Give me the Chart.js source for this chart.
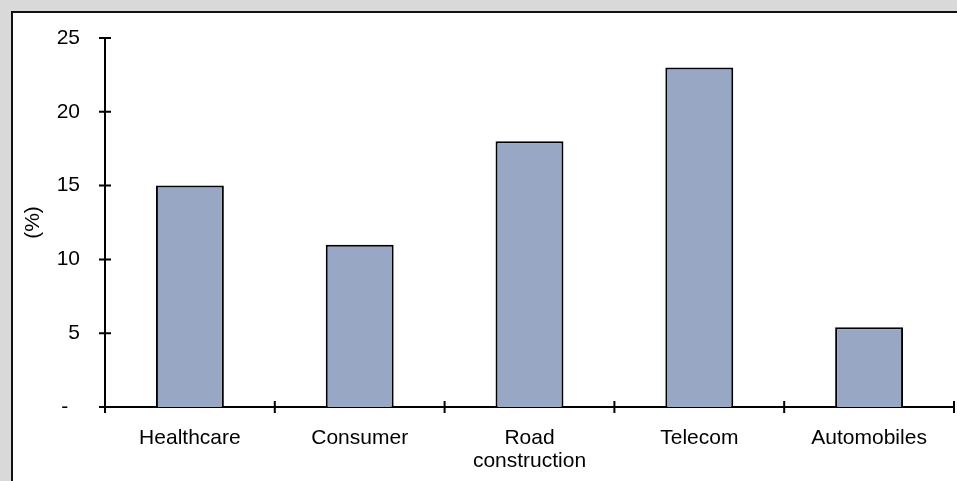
<!DOCTYPE html>
<html lang="en">
<head>
    <meta charset="UTF-8">
    <title>Sector returns</title>
    <script src="https://cdn.jsdelivr.net/npm/chart.js@4"></script>
    <style>
        html, body { margin: 0; padding: 0; }
        body { background: #d9d9d9; width: 957px; height: 481px; overflow: hidden; position: relative; }
        #panel {
            position: absolute; left: 11px; top: 11px; width: 960px; height: 480px;
            background: #ffffff; border-left: 2px solid #111; border-top: 2px solid #111;
        }
        #wrap { position: absolute; left: 0; top: 0; width: 957px; height: 481px; }
    </style>
</head>
<body>
    <div id="panel"></div>
    <div id="wrap"><canvas id="sectorChart"></canvas></div>

    <script>
        const sectors = ['Healthcare', 'Consumer', ['Road', 'construction'], 'Telecom', 'Automobiles'];
        const returns = [15, 11, 18, 23, 5.4];
        const yTicks = [0, 5, 10, 15, 20, 25];

        const font = { family: 'Arial, "Liberation Sans", sans-serif', size: 21, lineHeight: 1.1 };

        // tick marks that cross the axis lines on both sides
        const crossTicks = {
            id: 'crossTicks',
            afterDraw(chart) {
                const ctx = chart.ctx;
                const x = chart.scales.x;
                const y = chart.scales.y;
                const len = 6;
                ctx.save();
                ctx.strokeStyle = '#000';
                ctx.lineWidth = 2;
                ctx.beginPath();
                yTicks.forEach(v => {
                    const py = y.getPixelForValue(v);
                    ctx.moveTo(x.left - len, py);
                    ctx.lineTo(x.left + len, py);
                });
                for (let i = 0; i <= sectors.length; i++) {
                    const px = x.getPixelForValue(i - 0.5);
                    ctx.moveTo(px, y.bottom - len);
                    ctx.lineTo(px, y.bottom + len);
                }
                ctx.stroke();
                ctx.restore();
            }
        };

        new Chart(document.getElementById('sectorChart'), {
            type: 'bar',
            data: {
                labels: sectors,
                datasets: [{
                    data: returns,
                    backgroundColor: '#97a7c4',
                    borderColor: '#000',
                    borderWidth: 2,
                    barPercentage: 0.4,
                    categoryPercentage: 1
                }]
            },
            options: {
                responsive: true,
                maintainAspectRatio: false,
                animation: false,
                layout: { padding: { left: 0, right: 3, top: 38, bottom: 0 } },
                plugins: { legend: { display: false }, tooltip: { enabled: false } },
                scales: {
                    x: {
                        grid: { display: false, drawTicks: false },
                        border: { display: true, color: '#000', width: 2 },
                        ticks: { color: '#000', font: font, padding: 20, maxRotation: 0, autoSkip: false },
                        afterFit(scale) { scale.height = 74; }
                    },
                    y: {
                        min: 0,
                        max: 25,
                        afterBuildTicks(scale) { scale.ticks = yTicks.map(v => ({ value: v })); },
                        grid: { display: false, drawTicks: false },
                        border: { display: true, color: '#000', width: 2 },
                        ticks: {
                            color: '#000',
                            font: font,
                            padding: 25,
                            // accounting-style zero: dash followed by spaces
                            callback: v => v === 0 ? '-  ' : String(v)
                        },
                        title: {
                            display: true,
                            text: '(%)',
                            color: '#000',
                            font: font,
                            padding: { top: 22, bottom: 0 }
                        },
                        afterFit(scale) { scale.width = 105; }
                    }
                }
            },
            plugins: [crossTicks]
        });
    </script>
</body>
</html>
